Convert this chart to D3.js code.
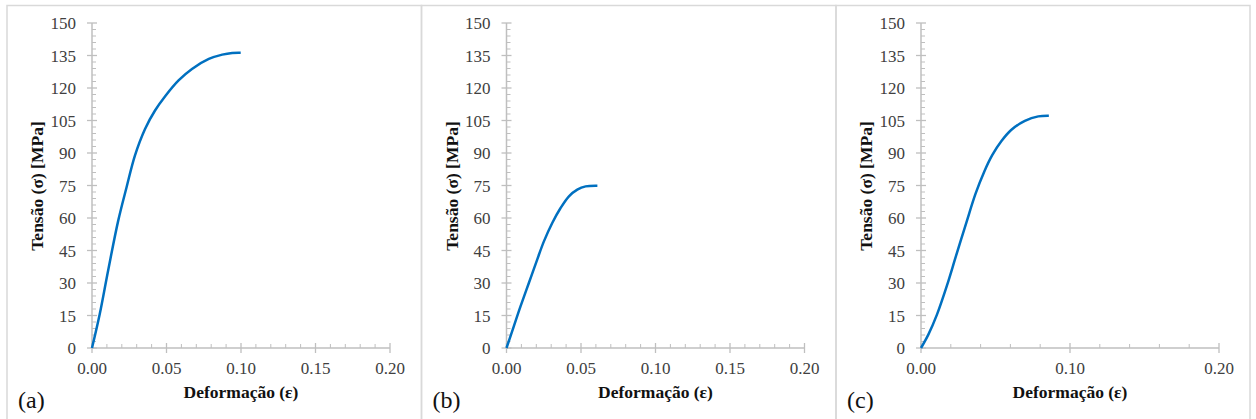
<!DOCTYPE html>
<html>
<head>
<meta charset="utf-8">
<script src="https://cdn.jsdelivr.net/npm/d3@7"></script>
<style>
  html, body { margin: 0; padding: 0; background: #fff; }
  svg { display: block; }
</style>
</head>
<body>
<svg id="chart" width="1256" height="419"></svg>
<script>
// curvas tensão x deformação
var strainA = [0, 0.0052, 0.0108, 0.0176, 0.0232, 0.0288, 0.0356, 0.0423, 0.0491, 0.0581, 0.0671, 0.0784, 0.0874, 0.0941, 0.0998];
var stressA = [0, 15.7, 35.7, 58.8, 74.2, 88.8, 101.1, 109.6, 116.2, 123.5, 128.8, 133.4, 135.4, 136.2, 136.3];

var strainB = [0, 0.0049, 0.0094, 0.015, 0.0206, 0.0251, 0.0307, 0.0363, 0.0419, 0.0475, 0.0531, 0.061];
var stressB = [0, 10, 19.2, 30, 40.8, 49.2, 57.7, 64.6, 70, 73.1, 74.6, 74.9];

var strainC = [0, 0.005, 0.0107, 0.0175, 0.0235, 0.0305, 0.0365, 0.0425, 0.0478, 0.054, 0.0605, 0.0697, 0.0787, 0.0858];
var stressC = [0, 6.3, 15.4, 29, 42.5, 58, 71, 81.5, 89, 95.5, 100.6, 104.8, 106.9, 107.2];

var panelLabels = ['(a)', '(b)', '(c)'];
var yTicks = [0, 15, 30, 45, 60, 75, 90, 105, 120, 135, 150];
var xTicksAB = [0, 0.05, 0.10, 0.15, 0.20];
var xTicksC = [0, 0.10, 0.20];
var xMinorAB = 0.01, xMinorC = 0.02, yMinor = 3;

var xTitle = 'Deformação (ε)';
var yTitle = 'Tensão (σ) [MPa]';

var panels = [
  {label: panelLabels[0], x: strainA, y: stressA, xTicks: xTicksAB, minor: xMinorAB},
  {label: panelLabels[1], x: strainB, y: stressB, xTicks: xTicksAB, minor: xMinorAB},
  {label: panelLabels[2], x: strainC, y: stressC, xTicks: xTicksC, minor: xMinorC}
];

var svg = d3.select('#chart');
var font = '"Liberation Serif", "Times New Roman", serif';
var panelX = [7, 421.5, 836, 1250];
var axisColor = '#bfbfbf';
var textColor = '#404040';
var plotTop = 23, plotBottom = 348, plotW = 298;

panels.forEach(function(p, i) {
  var px = panelX[i];
  // moldura do painel
  svg.append('path')
    .attr('d', 'M' + px + ',430V5.5H' + panelX[i + 1] + 'V430')
    .attr('fill', 'none')
    .attr('stroke', '#d9d9d9')
    .attr('stroke-width', 1.5);

  var left = px + 85;
  var x = d3.scaleLinear().domain([0, 0.2]).range([left, left + plotW]);
  var y = d3.scaleLinear().domain([0, 150]).range([plotBottom, plotTop]);
  var g = svg.append('g').attr('font-family', font);

  // ticks menores (para dentro)
  var yMin = d3.range(0, 150.01, yMinor).filter(function(v) { return v % 15 != 0; });
  g.selectAll('.ymin').data(yMin).enter().append('line')
    .attr('x1', left).attr('x2', left + 4)
    .attr('y1', function(d) { return y(d); }).attr('y2', function(d) { return y(d); })
    .attr('stroke', axisColor).attr('stroke-width', 1);
  var xMin = d3.range(0, 0.2001, p.minor).filter(function(v) {
    return p.xTicks.every(function(t) { return Math.abs(t - v) > 1e-6; });
  });
  g.selectAll('.xmin').data(xMin).enter().append('line')
    .attr('x1', function(d) { return x(d); }).attr('x2', function(d) { return x(d); })
    .attr('y1', plotBottom).attr('y2', plotBottom - 4)
    .attr('stroke', axisColor).attr('stroke-width', 1);

  // ticks maiores (cruzados)
  g.selectAll('.ymaj').data(yTicks).enter().append('line')
    .attr('x1', left - 5).attr('x2', left + 5)
    .attr('y1', function(d) { return y(d); }).attr('y2', function(d) { return y(d); })
    .attr('stroke', axisColor).attr('stroke-width', 1.3);
  g.selectAll('.xmaj').data(p.xTicks).enter().append('line')
    .attr('x1', function(d) { return x(d); }).attr('x2', function(d) { return x(d); })
    .attr('y1', plotBottom - 5).attr('y2', plotBottom + 5)
    .attr('stroke', axisColor).attr('stroke-width', 1.3);

  // eixos
  g.append('line').attr('x1', left).attr('x2', left).attr('y1', plotTop).attr('y2', plotBottom)
    .attr('stroke', axisColor).attr('stroke-width', 1.5);
  g.append('line').attr('x1', left).attr('x2', left + plotW).attr('y1', plotBottom).attr('y2', plotBottom)
    .attr('stroke', axisColor).attr('stroke-width', 1.5);

  // rótulos
  g.selectAll('.ylab').data(yTicks).enter().append('text')
    .attr('x', left - 16).attr('y', function(d) { return y(d) + 6; })
    .attr('text-anchor', 'end').attr('font-size', 17).attr('fill', textColor)
    .text(function(d) { return d; });
  g.selectAll('.xlab').data(p.xTicks).enter().append('text')
    .attr('x', function(d) { return x(d); }).attr('y', plotBottom + 26)
    .attr('text-anchor', 'middle').attr('font-size', 17).attr('fill', textColor)
    .text(function(d) { return d3.format('.2f')(d); });

  g.append('text')
    .attr('x', left + plotW / 2).attr('y', 398)
    .attr('text-anchor', 'middle').attr('font-size', 17.5).attr('font-weight', 'bold')
    .attr('fill', '#111').text(xTitle);
  g.append('text')
    .attr('transform', 'translate(' + (px + 36) + ',186) rotate(-90)')
    .attr('text-anchor', 'middle').attr('font-size', 17.5).attr('font-weight', 'bold')
    .attr('fill', '#111').text(yTitle);

  g.append('text')
    .attr('x', px + 11).attr('y', 408)
    .attr('font-size', 24).attr('fill', '#111').text(p.label);

  // curva
  var line = d3.line()
    .x(function(d) { return x(d[0]); })
    .y(function(d) { return y(d[1]); })
    .curve(d3.curveCatmullRom.alpha(0.5));
  g.append('path')
    .datum(d3.zip(p.x, p.y))
    .attr('d', line)
    .attr('fill', 'none')
    .attr('stroke', '#0070c0')
    .attr('stroke-width', 2.5)
    .attr('stroke-linejoin', 'round');
});
</script>
</body>
</html>
